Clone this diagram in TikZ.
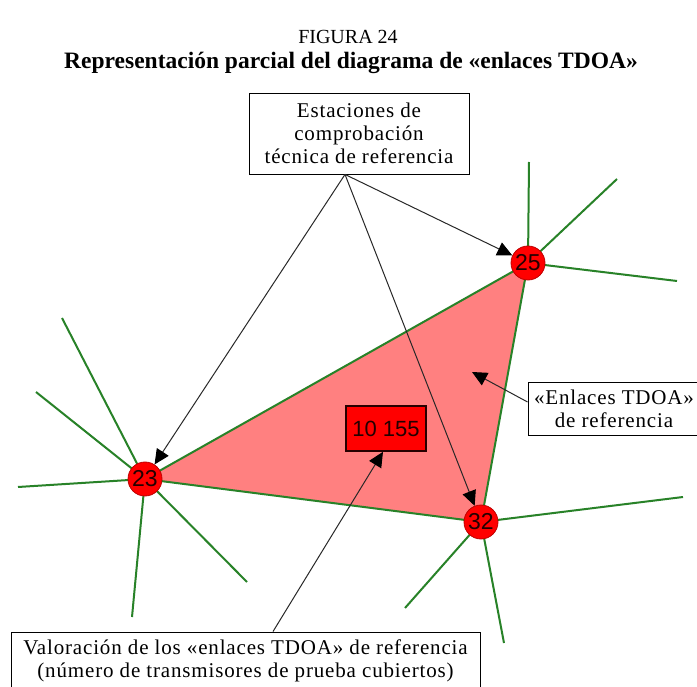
\documentclass[tikz,border=0pt]{standalone}
\usepackage{fontspec}
\setmainfont{Liberation Serif}
\newfontfamily\boxfont{Liberation Serif}[LetterSpace=4]
\newfontfamily\numfont{Liberation Sans}
\usetikzlibrary{arrows.meta,backgrounds}
\definecolor{spokegreen}{RGB}{40,130,40}
\definecolor{trifill}{RGB}{255,128,128}
\definecolor{stnred}{RGB}{255,0,0}
\definecolor{stnedge}{RGB}{190,0,0}
\definecolor{arrgray}{RGB}{40,40,40}
\definecolor{numtext}{RGB}{35,0,0}
\tikzset{
  lbl/.style={draw=black, line width=0.9pt, fill=white, align=center, inner sep=2pt,
    font=\boxfont\fontsize{21}{23}\selectfont},
  stn/.style={circle, fill=stnred, draw=stnedge, line width=0.8pt, minimum size=34pt,
    inner sep=0pt, text=numtext, font=\numfont\fontsize{23}{23}\selectfont},
  valbox/.style={rectangle, fill=stnred, draw=black!85!red, line width=1.6pt,
    minimum width=80pt, minimum height=45pt, inner sep=0pt, text=numtext,
    font=\numfont\fontsize{22}{22}\selectfont},
  spk/.style={draw=spokegreen, line width=2pt},
  arr/.style={draw=arrgray, line width=1pt, -{Triangle[length=15pt,width=14pt,color=black,fill=black]}}
}
\begin{document}
\begin{tikzpicture}[x=1pt,y=-1pt]
\useasboundingbox (0,0) rectangle (697,687);

% titles
\node (fig) at (348,37) {\fontsize{20}{22}\selectfont FIGURA 24};
\node (tit) at (351,63) {\fontsize{23.5}{26}\selectfont\bfseries Representación parcial del diagrama de «enlaces TDOA»};

% stations
\node[stn] (n23) at (145,479) {23};
\node[stn] (n25) at (528,263) {25};
\node[stn] (n32) at (481,522) {32};

% value box
\node[valbox] (val) at (386,428.5) {10 155};

% label boxes
\node[lbl, minimum width=220pt, minimum height=81pt] (top) at (359,133.5)
  {Estaciones de\\comprobación\\técnica de referencia};
\node[lbl, minimum width=172pt, minimum height=53pt] (enl) at (614,408.5)
  {«Enlaces TDOA»\\de referencia};
\node[lbl, minimum width=469pt, minimum height=57pt] (bot) at (245.5,660.5)
  {Valoración de los «enlaces TDOA» de referencia\\(número de transmisores de prueba cubiertos)};

% spoke ends
\coordinate (a1) at (62,318);
\coordinate (a2) at (36,392);
\coordinate (a3) at (18,487);
\coordinate (a4) at (132,617);
\coordinate (a5) at (247,582);
\coordinate (b1) at (529,162);
\coordinate (b2) at (617,179);
\coordinate (b3) at (677,281);
\coordinate (c1) at (683,497);
\coordinate (c2) at (405,608);
\coordinate (c3) at (504,643);

\begin{pgfonlayer}{background}
  \fill[white] (0,0) rectangle (697,687);
  \fill[trifill] (n23.center) -- (n25.center) -- (n32.center) -- cycle;
  \draw[spk, line join=round] (n23.center) -- (n25.center) -- (n32.center) -- cycle;
  \foreach \e in {a1,a2,a3,a4,a5} \draw[spk] (n23.center) -- (\e);
  \foreach \e in {b1,b2,b3} \draw[spk] (n25.center) -- (\e);
  \foreach \e in {c1,c2,c3} \draw[spk] (n32.center) -- (\e);
\end{pgfonlayer}

% arrows
\coordinate (o) at ([xshift=-14pt]top.south);
\draw[arr] (o) -- (n23);
\draw[arr] (o) -- (n25);
\draw[arr] (o) -- (n32);
\coordinate (tgt) at (472,372);
\draw[arr] ([yshift=6.5pt]enl.west) -- (tgt);
\draw[arr] ([xshift=27.5pt]bot.north) -- ([xshift=-3pt]val.south);
\end{tikzpicture}
\end{document}
